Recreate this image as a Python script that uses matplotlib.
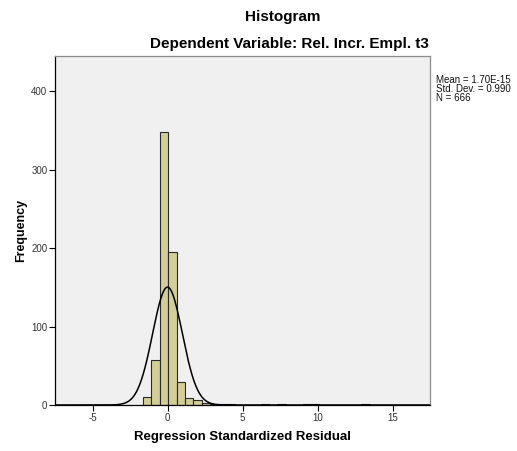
import numpy as np
import matplotlib
matplotlib.use("Agg")
import matplotlib.pyplot as plt

plt.rcParams['font.family'] = ['Liberation Sans', 'DejaVu Sans']
plt.rcParams['axes.unicode_minus'] = False

# histogram bins (start, width) and counts
bin_start = -1.64
bin_width = 0.56
counts = [10, 58, 348, 195, 29, 9, 6, 3, 1, 1, 1, 0, 0, 0, 1, 0, 1, 0, 0,
          1, 1, 0, 0, 0, 0, 0, 1]
mean = 1.70e-15
std = 0.990
n = 666

x_ticks = [-5, 0, 5, 10, 15]
y_ticks = [0, 100, 200, 300, 400]

edges = bin_start + bin_width * np.arange(len(counts))

fig = plt.figure(figsize=(5.17, 4.51), dpi=100)
ax = fig.add_axes([55/517, 46/451, 375/517, 349/451])
ax.set_facecolor('#f0f0f0')

ax.bar(edges, counts, width=bin_width, align='edge', color='#d3ce97',
       edgecolor='#2a2a2a', linewidth=0.8, zorder=2)

xs = np.linspace(-7.5, 17.5, 600)
ys = n * bin_width / (std * np.sqrt(2 * np.pi)) * np.exp(-0.5 * ((xs - mean) / std) ** 2)
ax.plot(xs, ys, color='black', linewidth=1.1, zorder=3)

ax.set_xlim(-7.5, 17.5)
ax.set_ylim(0, 445)
ax.set_xticks(x_ticks)
ax.set_yticks(y_ticks)
ax.tick_params(labelsize=7, colors='black', labelcolor='#333333',
               length=4, width=0.8, pad=1.5)
for s in ['left', 'bottom']:
    ax.spines[s].set_color('black')
    ax.spines[s].set_linewidth(0.9)
for s in ['top', 'right']:
    ax.spines[s].set_color('#8c8c8c')
    ax.spines[s].set_linewidth(0.9)

ax.set_xlabel('Regression Standardized Residual', fontsize=9.5, fontweight='bold', labelpad=6)
ax.set_ylabel('Frequency', fontsize=9, fontweight='bold', labelpad=3)

fig.text(283/517, 1 - 17/451, 'Histogram', fontsize=11, fontweight='bold',
         ha='center', va='center')
fig.text(289/517, 1 - 44/451, 'Dependent Variable: Rel. Incr. Empl. t3', fontsize=11,
         fontweight='bold', ha='center', va='center')

fig.text(436/517, 1 - 75/451,
         'Mean = 1.70E-15\nStd. Dev. = 0.990\nN = 666',
         fontsize=7, ha='left', va='top', linespacing=0.9, color='#111111')

fig.savefig('out.png', dpi=100)
